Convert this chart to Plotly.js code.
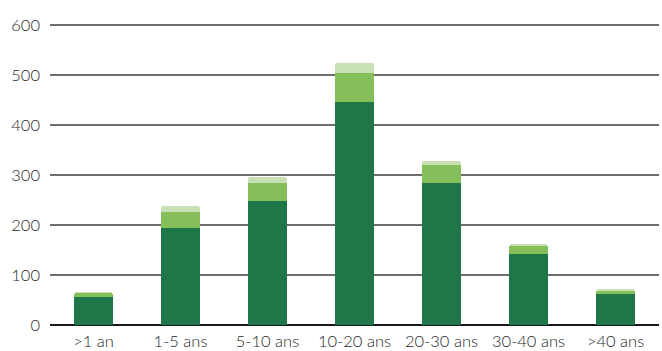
<!DOCTYPE html>
<html>
<head>
<meta charset="utf-8">
<script src="https://cdn.plot.ly/plotly-3.0.1.min.js"></script>
<style>html,body{margin:0;padding:0;background:#fff}#chart{width:662px;height:351px}</style>
</head>
<body>
<div id="chart"></div>
<script>
const categories = [">1 an", "1-5 ans", "5-10 ans", "10-20 ans", "20-30 ans", "30-40 ans", ">40 ans"];
const seriesDark = [56, 194, 248, 446, 284, 142, 62];
const seriesMid = [8, 32, 36, 58, 36, 16, 6];
const seriesLight = [3, 12, 12, 20, 8, 4, 4];
const yTicks = [0, 100, 200, 300, 400, 500, 600];

const traces = [
  {type: 'bar', x: categories, y: seriesDark, marker: {color: '#1e7649'}, hoverinfo: 'none'},
  {type: 'bar', x: categories, y: seriesMid, marker: {color: '#84bf5a'}, hoverinfo: 'none'},
  {type: 'bar', x: categories, y: seriesLight, marker: {color: '#c8e0b3', cornerradius: 3}, hoverinfo: 'none'}
];

const layout = {
  width: 662, height: 351,
  margin: {l: 50, r: 3, t: 20, b: 26},
  barmode: 'stack',
  bargap: 0.555,
  showlegend: false,
  paper_bgcolor: '#fff', plot_bgcolor: '#fff',
  font: {family: 'Lato, "Open Sans", sans-serif', size: 16.5, color: '#1f1f1f', weight: 300},
  xaxis: {showgrid: false, ticks: '', showline: false, zeroline: false, ticklabelstandoff: 4},
  yaxis: {range: [0, 610], tickvals: yTicks, ticktext: yTicks.map(String), showgrid: true,
          gridcolor: '#6e6e6e', gridwidth: 1.3, zeroline: true, zerolinecolor: '#1a1a1a', zerolinewidth: 1.6,
          ticks: '', ticklabelstandoff: 9, showline: false}
};

Plotly.newPlot('chart', traces, layout, {staticPlot: true, displayModeBar: false});
</script>
</body>
</html>
